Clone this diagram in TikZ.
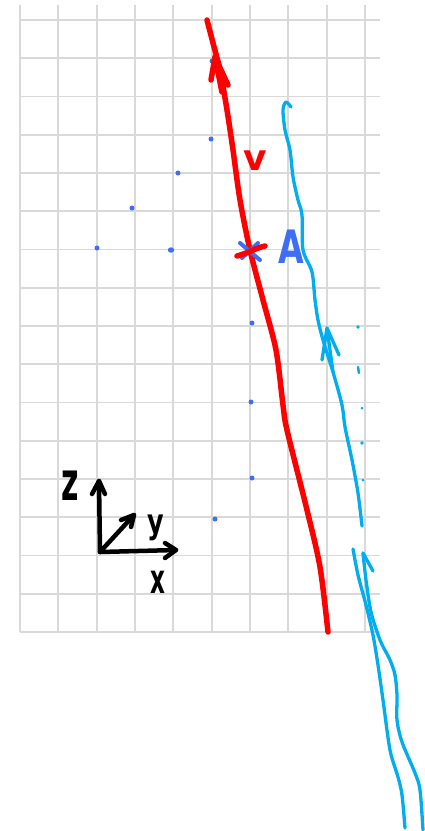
\documentclass[tikz,border=0pt]{standalone}
\usepackage{fontspec}
\setmainfont{DejaVu Sans}
\definecolor{gridgray}{HTML}{D9D9D9}
\definecolor{penred}{HTML}{FF0000}
\definecolor{pencyan}{HTML}{00AEEF}
\definecolor{penblue}{HTML}{3D6EF5}
\begin{document}
\begin{tikzpicture}[x=1pt,y=-1pt,
  gridline/.style={draw=gridgray,line width=1.8},
  redpen/.style={draw=penred,line width=5.5,line cap=round,line join=round},
  cyanpen/.style={draw=pencyan,line width=3.3,line cap=round,line join=round},
  bluepen/.style={draw=penblue,line width=4,line cap=round,line join=round},
  axispen/.style={draw=black,line width=4.5,line cap=round,line join=round},
  dotmark/.style={fill=penblue},
  lbl/.style={inner sep=0pt,anchor=base,font=\bfseries}]
\useasboundingbox (0,0) rectangle (424,831);
\fill[white] (0,0) rectangle (424,831);
% grid
\foreach \i in {0,...,9} \draw[gridline] ({20+38.33*\i},5) -- ({20+38.33*\i},632);
\foreach \j in {0,...,16} \draw[gridline] (20,{20+38.25*\j}) -- (380,{20+38.25*\j});
% blue dots
\foreach \p in {(212,61),(211,139),(178,173),(132,208),(97,248),(252,323),(251,402),(252,478),(215,519)}
  \fill[dotmark] \p circle (2.5);
\fill[dotmark] (171,250) ellipse (3.2 and 2.7);
% cyan curve 1 with arrow
\draw[cyanpen] plot[smooth,tension=0.5] coordinates {(291,107) (286,102) (283,110) (285,130) (290,150) (293,177) (298,200) (302,215) (303,250) (312,272) (315,300) (318,320) (323,340) (333,372) (342,405) (345,427) (352,460) (358,493) (362,526)};
\coordinate (tipA) at (327,328);
\draw[cyanpen] (322,360) -- (tipA) -- (339,355);
\draw[cyanpen] (tipA) -- (333,372);
% cyan dotted trail
\fill[pencyan] (358,327) circle (1.8);
\draw[pencyan,line width=2.5,line cap=round] (358,367) -- (359,373);
\fill[pencyan] (362,408) circle (1.5);
\fill[pencyan] (362,443) circle (1.8);
\fill[pencyan] (363,480) circle (1.5);
% cyan lower strands
\draw[cyanpen] plot[smooth,tension=0.5] coordinates {(353,549) (358,575) (366,605) (373,635) (378,665) (383,700) (390,750) (398,777) (402,795) (405,828)};
\coordinate (tipB) at (363,553);
\draw[cyanpen] (373,571) -- (tipB);
\draw[cyanpen] plot[smooth,tension=0.5] coordinates {(tipB) (366,580) (371,612) (380,640) (390,660) (395,675) (397,695) (397,720) (402,742) (415,773) (420,790) (423,830)};
% red line
\draw[redpen] plot[smooth,tension=0.5] coordinates {(207,20) (213,43) (220,70) (227,110) (233,150) (240,200) (250,250) (263,300) (276,350) (283,405) (287,430) (307,510) (320,567) (328,632)};
\coordinate (tipR) at (215,57);
\draw[redpen] (211,80) -- (tipR) -- (228,85);
\draw[redpen] (tipR) -- (222,92);
% point A
\draw[bluepen] (240,243) -- (260,260);
\draw[bluepen] (258,243) -- (242,258);
\draw[redpen] (237,256) .. controls (248,253) and (256,248) .. (265,246);
\node[lbl,text=penblue,font=\fontsize{46}{46}\selectfont\bfseries] (Alab) at (291,263) {\scalebox{0.72}[1]{A}};
\node[lbl,text=penred,font=\fontsize{36}{36}\selectfont\bfseries] (vlab) at (255,170) {v};
% axes
\coordinate (O) at (100,552);
\coordinate (zend) at (99,481);
\coordinate (xend) at (176,550);
\coordinate (yend) at (134,515);
\draw[axispen] (O) -- (zend);
\draw[axispen] (92,494) -- (zend) -- (105,494);
\draw[axispen] (O) -- (xend);
\draw[axispen] (165,543) -- (xend) -- (165,558);
\draw[axispen] (O) -- (yend);
\draw[axispen] (121,520) -- (yend) -- (131,527);
\node[lbl,font=\fontsize{40}{40}\selectfont\bfseries] (zlab) at (70,500) {\scalebox{0.75}[1.35]{z}};
\node[lbl,font=\fontsize{34}{34}\selectfont\bfseries] (ylab) at (156,533) {\scalebox{0.75}[1]{y}};
\node[lbl,font=\fontsize{34}{34}\selectfont\bfseries] (xlab) at (158,593) {\scalebox{0.68}[1.2]{x}};
\end{tikzpicture}
\end{document}
